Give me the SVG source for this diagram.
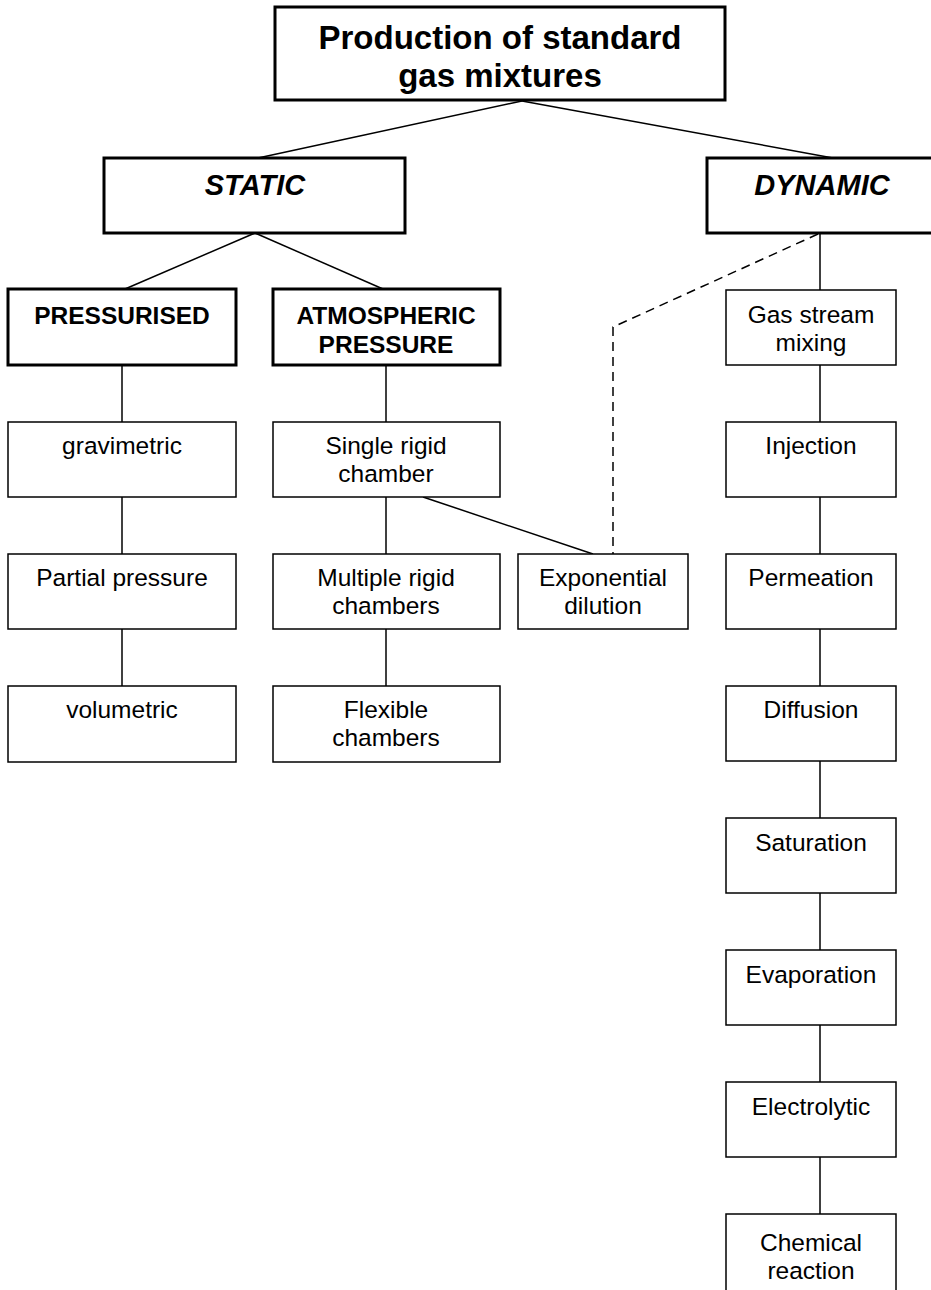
<svg xmlns="http://www.w3.org/2000/svg" width="931" height="1290" viewBox="0 0 931 1290">
<style>
.thick{fill:#fff;stroke:#000;stroke-width:3}
.thin{fill:#fff;stroke:#000;stroke-width:1.5}
.c{stroke:#000;stroke-width:1.5;fill:none}
.d{stroke:#000;stroke-width:1.5;fill:none;stroke-dasharray:9 6}
text{font-family:"Liberation Sans",Arial,sans-serif;fill:#000;text-anchor:middle}
.t{font-size:33px;font-weight:bold}
.bi{font-size:29px;font-weight:bold;font-style:italic}
.b{font-size:24.5px;font-weight:bold}
.r{font-size:24.5px}
</style>
<rect width="931" height="1290" fill="#fff"/>
<g id="connectors">
<line class="c" x1="522" y1="101" x2="258" y2="158"/>
<line class="c" x1="522" y1="101" x2="833" y2="158"/>
<line class="c" x1="255" y1="233" x2="125" y2="289"/>
<line class="c" x1="255" y1="233" x2="383" y2="289"/>
<line class="c" x1="122" y1="365" x2="122" y2="422"/>
<line class="c" x1="122" y1="497" x2="122" y2="554"/>
<line class="c" x1="122" y1="629" x2="122" y2="686"/>
<line class="c" x1="386" y1="365" x2="386" y2="422"/>
<line class="c" x1="386" y1="497" x2="386" y2="554"/>
<line class="c" x1="386" y1="629" x2="386" y2="686"/>
<line class="c" x1="423" y1="497" x2="593" y2="554"/>
<polyline class="d" points="818,234 613,327 613,554"/>
<line class="c" x1="820" y1="233" x2="820" y2="290"/>
<line class="c" x1="820" y1="365" x2="820" y2="422"/>
<line class="c" x1="820" y1="497" x2="820" y2="554"/>
<line class="c" x1="820" y1="629" x2="820" y2="686"/>
<line class="c" x1="820" y1="761" x2="820" y2="818"/>
<line class="c" x1="820" y1="893" x2="820" y2="950"/>
<line class="c" x1="820" y1="1025" x2="820" y2="1082"/>
<line class="c" x1="820" y1="1157" x2="820" y2="1214"/>
</g>
<g id="title"><rect class="thick" x="275" y="7" width="450" height="93"/><text class="t" x="500" y="49">Production of standard</text><text class="t" x="500" y="87">gas mixtures</text></g>
<g id="static"><rect class="thick" x="104" y="158" width="301" height="75"/><text class="bi" x="255" y="195">STATIC</text></g>
<g id="dynamic"><rect class="thick" x="707" y="158" width="230" height="75"/><text class="bi" x="822" y="195">DYNAMIC</text></g>
<g id="pressurised"><rect class="thick" x="8" y="289" width="228" height="76"/><text class="b" x="122" y="324">PRESSURISED</text></g>
<g id="atmospheric"><rect class="thick" x="273" y="289" width="227" height="76"/><text class="b" x="386" y="324">ATMOSPHERIC</text><text class="b" x="386" y="353">PRESSURE</text></g>
<g id="gravimetric"><rect class="thin" x="8" y="422" width="228" height="75"/><text class="r" x="122" y="454">gravimetric</text></g>
<g id="partial"><rect class="thin" x="8" y="554" width="228" height="75"/><text class="r" x="122" y="586">Partial pressure</text></g>
<g id="volumetric"><rect class="thin" x="8" y="686" width="228" height="76"/><text class="r" x="122" y="718">volumetric</text></g>
<g id="single"><rect class="thin" x="273" y="422" width="227" height="75"/><text class="r" x="386" y="454">Single rigid</text><text class="r" x="386" y="482">chamber</text></g>
<g id="multiple"><rect class="thin" x="273" y="554" width="227" height="75"/><text class="r" x="386" y="586">Multiple rigid</text><text class="r" x="386" y="614">chambers</text></g>
<g id="flexible"><rect class="thin" x="273" y="686" width="227" height="76"/><text class="r" x="386" y="718">Flexible</text><text class="r" x="386" y="746">chambers</text></g>
<g id="exponential"><rect class="thin" x="518" y="554" width="170" height="75"/><text class="r" x="603" y="586">Exponential</text><text class="r" x="603" y="614">dilution</text></g>
<g id="gasstream"><rect class="thin" x="726" y="290" width="170" height="75"/><text class="r" x="811" y="323">Gas stream</text><text class="r" x="811" y="351">mixing</text></g>
<g id="injection"><rect class="thin" x="726" y="422" width="170" height="75"/><text class="r" x="811" y="454">Injection</text></g>
<g id="permeation"><rect class="thin" x="726" y="554" width="170" height="75"/><text class="r" x="811" y="586">Permeation</text></g>
<g id="diffusion"><rect class="thin" x="726" y="686" width="170" height="75"/><text class="r" x="811" y="718">Diffusion</text></g>
<g id="saturation"><rect class="thin" x="726" y="818" width="170" height="75"/><text class="r" x="811" y="851">Saturation</text></g>
<g id="evaporation"><rect class="thin" x="726" y="950" width="170" height="75"/><text class="r" x="811" y="983">Evaporation</text></g>
<g id="electrolytic"><rect class="thin" x="726" y="1082" width="170" height="75"/><text class="r" x="811" y="1115">Electrolytic</text></g>
<g id="chemical"><rect class="thin" x="726" y="1214" width="170" height="90"/><text class="r" x="811" y="1251">Chemical</text><text class="r" x="811" y="1279">reaction</text></g>
</svg>
